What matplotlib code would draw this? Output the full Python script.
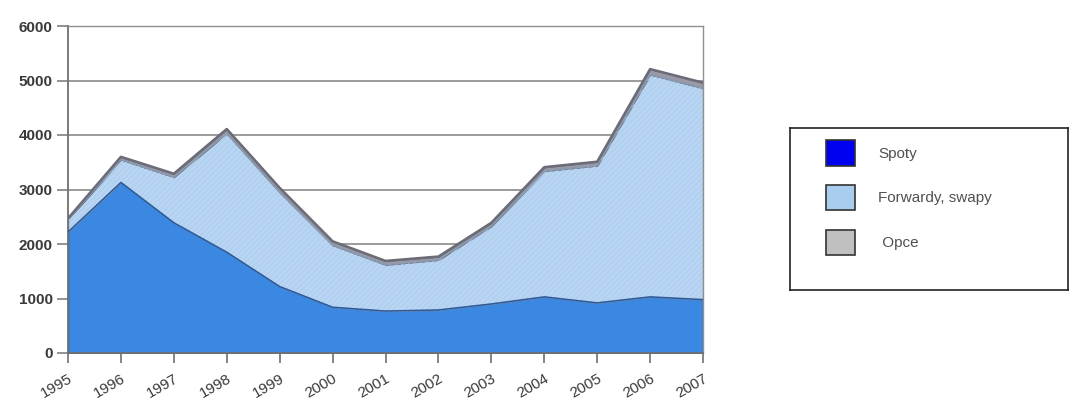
import matplotlib
matplotlib.use("Agg")
import matplotlib.pyplot as plt
from matplotlib.patches import Patch
import numpy as np

plt.rcParams['font.family'] = ['Liberation Sans', 'DejaVu Sans']
plt.rcParams['hatch.linewidth'] = 0.5

years = [1995, 1996, 1997, 1998, 1999, 2000, 2001, 2002, 2003, 2004, 2005, 2006, 2007]
spoty = [2220, 3130, 2390, 1850, 1220, 840, 770, 790, 900, 1030, 920, 1030, 980]
forwardy = [230, 420, 840, 2180, 1730, 1140, 850, 920, 1430, 2310, 2520, 4080, 3880]
opce = [20, 50, 60, 80, 80, 70, 70, 60, 60, 70, 70, 100, 100]

series_labels = ["Spoty", "Forwardy, swapy", " Opce"]
fill_colors = ["#3a88e2", "#b2d1f1", "#9a9aa6"]
edge_colors = ["#2a5a9e", "#8a9ab0", "#6c6c78"]
legend_colors = ["#0000f0", "#a8cdee", "#c0c0c0"]

y_ticks = [0, 1000, 2000, 3000, 4000, 5000, 6000]

fig = plt.figure(figsize=(10.7, 4.08), dpi=100)
ax = fig.add_axes([68 / 1070, 55 / 408, 635 / 1070, 327 / 408])

x = np.arange(len(years))
polys = ax.stackplot(x, spoty, forwardy, opce, colors=fill_colors, zorder=2)
for p, ec in zip(polys, edge_colors):
    p.set_edgecolor(ec)
    p.set_linewidth(1.0)

# fine texture on the forward/swap band
lower = np.array(spoty)
upper = lower + np.array(forwardy)
ax.fill_between(x, lower, upper, facecolor="none", edgecolor="#c6dcf4",
                hatch="//////", linewidth=0, zorder=2.5)

# top edge of each band drawn as a line
cum = np.cumsum([spoty, forwardy, opce], axis=0)
ax.plot(x, cum[0], color=edge_colors[0], lw=1.1, zorder=3)
ax.plot(x, cum[1], color=edge_colors[1], lw=1.2, zorder=3)
ax.plot(x, cum[2], color=edge_colors[2], lw=1.8, zorder=3)

ax.set_xlim(0, len(years) - 1)
ax.set_ylim(0, 6000)
ax.set_yticks(y_ticks)
ax.set_yticklabels([str(v) for v in y_ticks], fontsize=11, fontweight="bold", color="#3a3a3a")
ax.set_xticks(x)
ax.set_xticklabels([str(y) for y in years], rotation=30, ha="right",
                   rotation_mode="anchor", fontsize=11, color="#3a3a3a")
ax.tick_params(axis="x", length=7, width=1.2, color="#707070", pad=6)
ax.tick_params(axis="y", length=8, width=1.2, color="#808080", pad=3)

ax.grid(axis="y", color="#8a8a8a", lw=1.2, zorder=1)
ax.set_axisbelow(True)
for side in ["left", "bottom"]:
    ax.spines[side].set_color("#707070")
    ax.spines[side].set_linewidth(1.3)
for side in ["top", "right"]:
    ax.spines[side].set_color("#909090")
    ax.spines[side].set_linewidth(1.0)

# legend panel
ax_leg = fig.add_axes([790 / 1070, 118 / 408, 278 / 1070, 162 / 408])
ax_leg.set_xticks([])
ax_leg.set_yticks([])
for s in ax_leg.spines.values():
    s.set_color("#222222")
    s.set_linewidth(1.2)
handles = [Patch(facecolor=c, edgecolor="#333333", linewidth=1.2) for c in legend_colors]
ax_leg.legend(handles, series_labels, loc="upper left", bbox_to_anchor=(0.08, 1.01),
              frameon=False, fontsize=11, handlelength=1.9, handleheight=2.2,
              labelspacing=1.25, handletextpad=1.5, labelcolor="#505050")

fig.savefig("out.png", dpi=100)
